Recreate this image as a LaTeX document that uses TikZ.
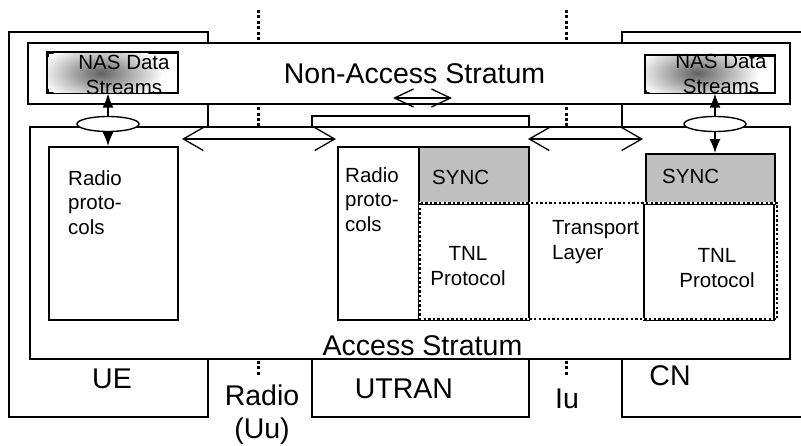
\documentclass[tikz,border=0pt]{standalone}
\usepackage{fontspec}
\setmainfont{Liberation Sans}
\usetikzlibrary{arrows.meta,shapes.geometric}
\begin{document}
\begin{tikzpicture}[x=1pt,y=-1pt,
  box/.style={draw, line width=1.6pt, fill=white, inner sep=0pt, anchor=north west},
  syncbox/.style={box, fill=black!25},
  lbl/.style={font=\fontsize{28.5}{34}\selectfont, inner sep=0pt, align=center},
  sm/.style={font=\fontsize{20.5}{24.5}\selectfont, inner sep=0pt},
  dotline/.style={line width=3pt, dash pattern=on 3pt off 2.4pt},
  dotrect/.style={line width=2.4pt, dash pattern=on 2.4pt off 2.2pt},
  openarrow/.style={line width=1.3pt, {Straight Barb[length=20pt,width=23pt]}-{Straight Barb[length=20pt,width=23pt]}},
  smallopen/.style={line width=1.3pt, {Straight Barb[length=19pt,width=18pt]}-{Straight Barb[length=19pt,width=18pt]}},
  solidarrow/.style={line width=1.4pt, -{Latex[length=14pt,width=11pt]}},
  ell/.style={ellipse, draw, line width=1.4pt, fill=white, inner sep=0pt, minimum width=62pt, minimum height=15pt}
]
\useasboundingbox (0,0) rectangle (801,445);
\clip (0,0) rectangle (801,445);

% outer domain boxes
\node[box, minimum width=199pt, minimum height=385pt] (ue) at (8,31) {};
\node[box, minimum width=217pt, minimum height=301pt] (utran) at (311,115) {};
\node[box, minimum width=220pt, minimum height=385pt] (cn) at (621,31) {};

% reference point lines
\coordinate (uuTop) at (258,10);
\coordinate (uuBot) at (258,377);
\coordinate (iuTop) at (566,10);
\coordinate (iuBot) at (566,377);
\draw[dotline] (uuTop) -- (uuBot);
\draw[dotline] (iuTop) -- (iuBot);

% strata
\node[box, minimum width=762pt, minimum height=61pt] (nas) at (27,42) {};
\node[box, minimum width=760pt, minimum height=232pt] (as) at (29,126) {};

% NAS data streams (shaded)
\node[box, minimum width=130pt, minimum height=40pt] (nasL) at (47,52) {};
\begin{scope}
  \clip (nasL.south west) rectangle (nasL.north east);
  \shade[inner color=black!62, outer color=white] (101,73) ellipse [x radius=62, y radius=30];
\end{scope}
\draw[line width=1.6pt] (nasL.south west) rectangle (nasL.north east);

\node[box, minimum width=129pt, minimum height=37pt] (nasR) at (645,55) {};
\begin{scope}
  \clip (nasR.south west) rectangle (nasR.north east);
  \shade[inner color=black!62, outer color=white] (697,73) ellipse [x radius=62, y radius=30];
\end{scope}
\draw[line width=1.6pt] (nasR.south west) rectangle (nasR.north east);

% protocol boxes
\node[box, minimum width=129pt, minimum height=173pt] (radioL) at (48,146) {};
\node[box, minimum width=81pt, minimum height=173pt] (radioM) at (337,146) {};
\node[syncbox, minimum width=110pt, minimum height=57pt] (syncM) at (418,146) {};
\node[box, minimum width=110pt, minimum height=116pt] (tnlM) at (418,203) {};
\node[syncbox, minimum width=129pt, minimum height=50pt] (syncR) at (645,153) {};
\node[box, minimum width=130pt, minimum height=116pt] (tnlR) at (643,203) {};

% transport layer dotted outline
\coordinate (tlNW) at (420,203);
\coordinate (tlSE) at (777,319);
\draw[line width=2.4pt, white] (tlNW) rectangle (tlSE);
\draw[dotrect] (tlNW) rectangle (tlSE);

% ellipses and vertical arrows
\node[ell] (ellL) at (108,124) {};
\node[ell] (ellR) at (715,124) {};
\draw[solidarrow] (ellL.north) -- (ellL.north |- nasL.south);
\draw[solidarrow] (ellL.south) -- (ellL.south |- radioL.north);
\draw[solidarrow] (ellR.north) -- (ellR.north |- nasR.south);
\draw[solidarrow] (ellR.south) -- (ellR.south |- syncR.north);

% peer arrows
\coordinate (a1) at (182,139);
\coordinate (a2) at (336,139);
\coordinate (b1) at (528,139);
\coordinate (b2) at (643,139);
\coordinate (c1) at (393,98);
\coordinate (c2) at (452,98);
\draw[openarrow] (a1) -- (a2);
\draw[openarrow] (b1) -- (b2);
\draw[smallopen] (c1) -- (c2);

% large labels
\node[lbl, anchor=base] (tNAS) at (414.5,83) {Non-Access Stratum};
\node[lbl, anchor=base] (tAS) at (422.5,355) {Access Stratum};
\node[lbl, anchor=base] (tUE) at (112,388) {UE};
\node[lbl, anchor=base] (tUu) at (262,438) {Radio\\[-1pt](Uu)};
\node[lbl, anchor=base] (tUTRAN) at (404,398) {UTRAN};
\node[lbl, anchor=base] (tIu) at (567,408) {Iu};
\node[lbl, anchor=base] (tCN) at (670,385) {CN};

% small labels (base anchor = last line)
\node[sm, align=center, anchor=base] (tDSL) at (124,94) {NAS Data\\Streams};
\node[sm, align=center, anchor=base] (tDSR) at (721,93) {NAS Data\\Streams};
\node[sm, align=left, anchor=base west] (tRL) at (68,234) {Radio\\proto-\\cols};
\node[sm, align=left, anchor=base west] (tRM) at (345,231) {Radio\\proto-\\cols};
\node[sm, anchor=base west] (tSM) at (432,184) {SYNC};
\node[sm, anchor=base west] (tSR) at (662,183) {SYNC};
\node[sm, align=center, anchor=base] (tTM) at (468,285) {TNL\\Protocol};
\node[sm, align=center, anchor=base] (tTR) at (717,287) {TNL\\Protocol};
\node[sm, align=left, anchor=base west] (tTL) at (552,259) {Transport\\Layer};
\end{tikzpicture}
\end{document}
